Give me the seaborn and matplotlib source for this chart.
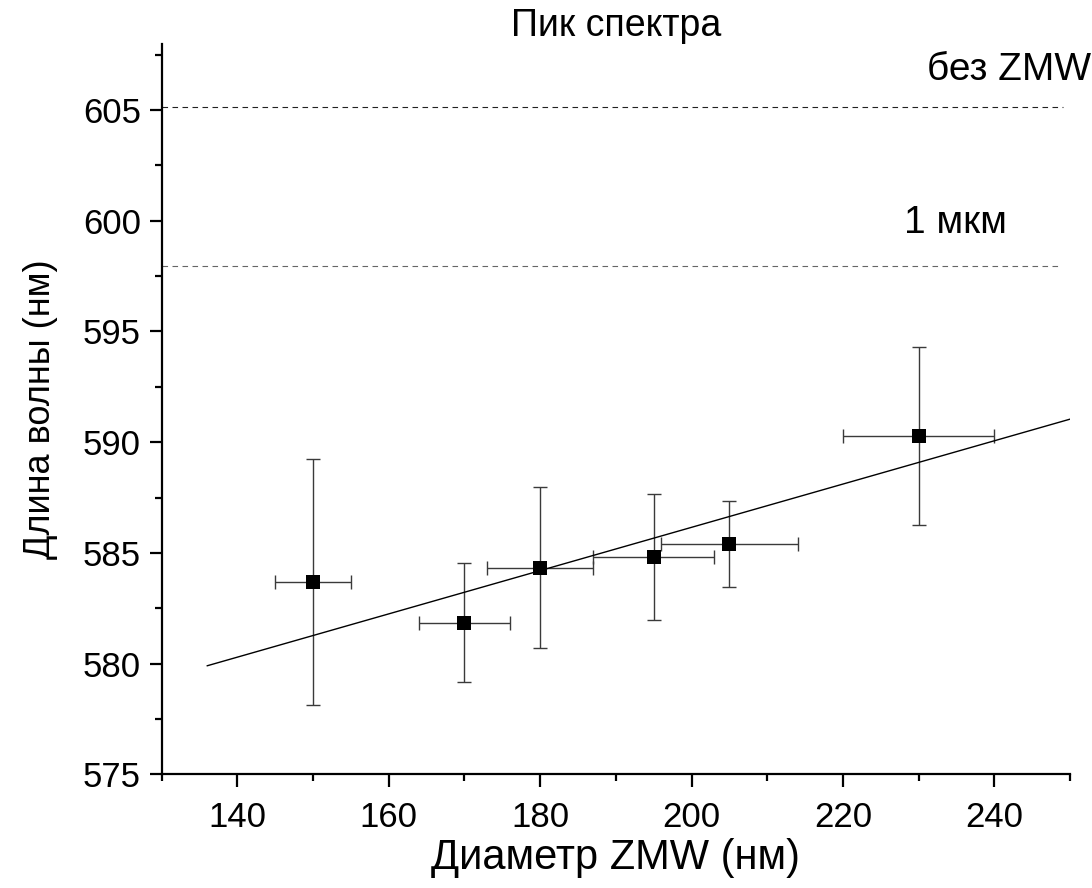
import numpy as np
import pandas as pd
import matplotlib
matplotlib.use("Agg")
import matplotlib.pyplot as plt
from matplotlib.ticker import MultipleLocator
import seaborn as sb

# data
diameter = [150, 170, 180, 195, 205, 230]
wavelength = [583.7, 581.84, 584.33, 584.82, 585.4, 590.29]
x_err = [5, 6, 7, 8, 9, 10]
y_err = [5.55, 2.69, 3.63, 2.84, 1.92, 4.02]

fit_x = [136, 250]
fit_y = [579.9, 591.04]

ref_no_zmw = 605.15
ref_1um = 597.95

sb.set_style("ticks")
plt.rcParams['font.family'] = ['Liberation Sans', 'DejaVu Sans']
for k in ['text.color', 'axes.labelcolor', 'xtick.color', 'ytick.color', 'axes.edgecolor']:
    plt.rcParams[k] = 'black'

fig = plt.figure(figsize=(10.92, 8.88), dpi=100)
ax = fig.add_axes([0.148, 0.128, 0.832, 0.823])

df = pd.DataFrame({"d": diameter, "wl": wavelength})

ax.errorbar(diameter, wavelength, xerr=x_err, yerr=y_err, fmt="none",
            ecolor="#3a3a3a", elinewidth=1.0, capsize=5, capthick=1.0, zorder=2)
sb.lineplot(x=fit_x, y=fit_y, ax=ax, color="black", linewidth=1.0, zorder=3)
sb.scatterplot(data=df, x="d", y="wl", ax=ax, marker="s", s=95, color="black",
               edgecolor="black", linewidth=0, zorder=4)

ax.plot([130, 249], [ref_no_zmw, ref_no_zmw], ls=(0, (5, 4)), color="#222222", lw=0.8)
ax.plot([130, 248.5], [ref_1um, ref_1um], ls=(0, (5, 4)), color="#666666", lw=0.8)

ax.text(252.8, 606.8, "без ZMW", fontsize=28, ha="right", va="center", clip_on=False)
ax.text(234.8, 599.9, "1 мкм", fontsize=28, ha="center", va="center")

ax.set_xlim(130, 250)
ax.set_ylim(575, 608)
ax.xaxis.set_major_locator(MultipleLocator(20))
ax.xaxis.set_minor_locator(MultipleLocator(10))
ax.yaxis.set_major_locator(MultipleLocator(5))
ax.yaxis.set_minor_locator(MultipleLocator(2.5))
ax.set_xticks([140, 160, 180, 200, 220, 240])

sb.despine(ax=ax)
for s in ["left", "bottom"]:
    ax.spines[s].set_linewidth(1.6)
ax.tick_params(which="major", length=9, width=1.6, labelsize=25, direction="out")
ax.tick_params(axis="x", which="major", pad=10)
ax.tick_params(axis="y", which="major", pad=6)
ax.tick_params(which="minor", length=5, width=1.6, direction="out")

ax.set_xlabel("Диаметр ZMW (нм)", fontsize=30, labelpad=3)
ax.set_ylabel("Длина волны (нм)", fontsize=26, labelpad=18)
ax.set_title("Пик спектра", fontsize=27, pad=3)

fig.savefig("out.png", dpi=100)
